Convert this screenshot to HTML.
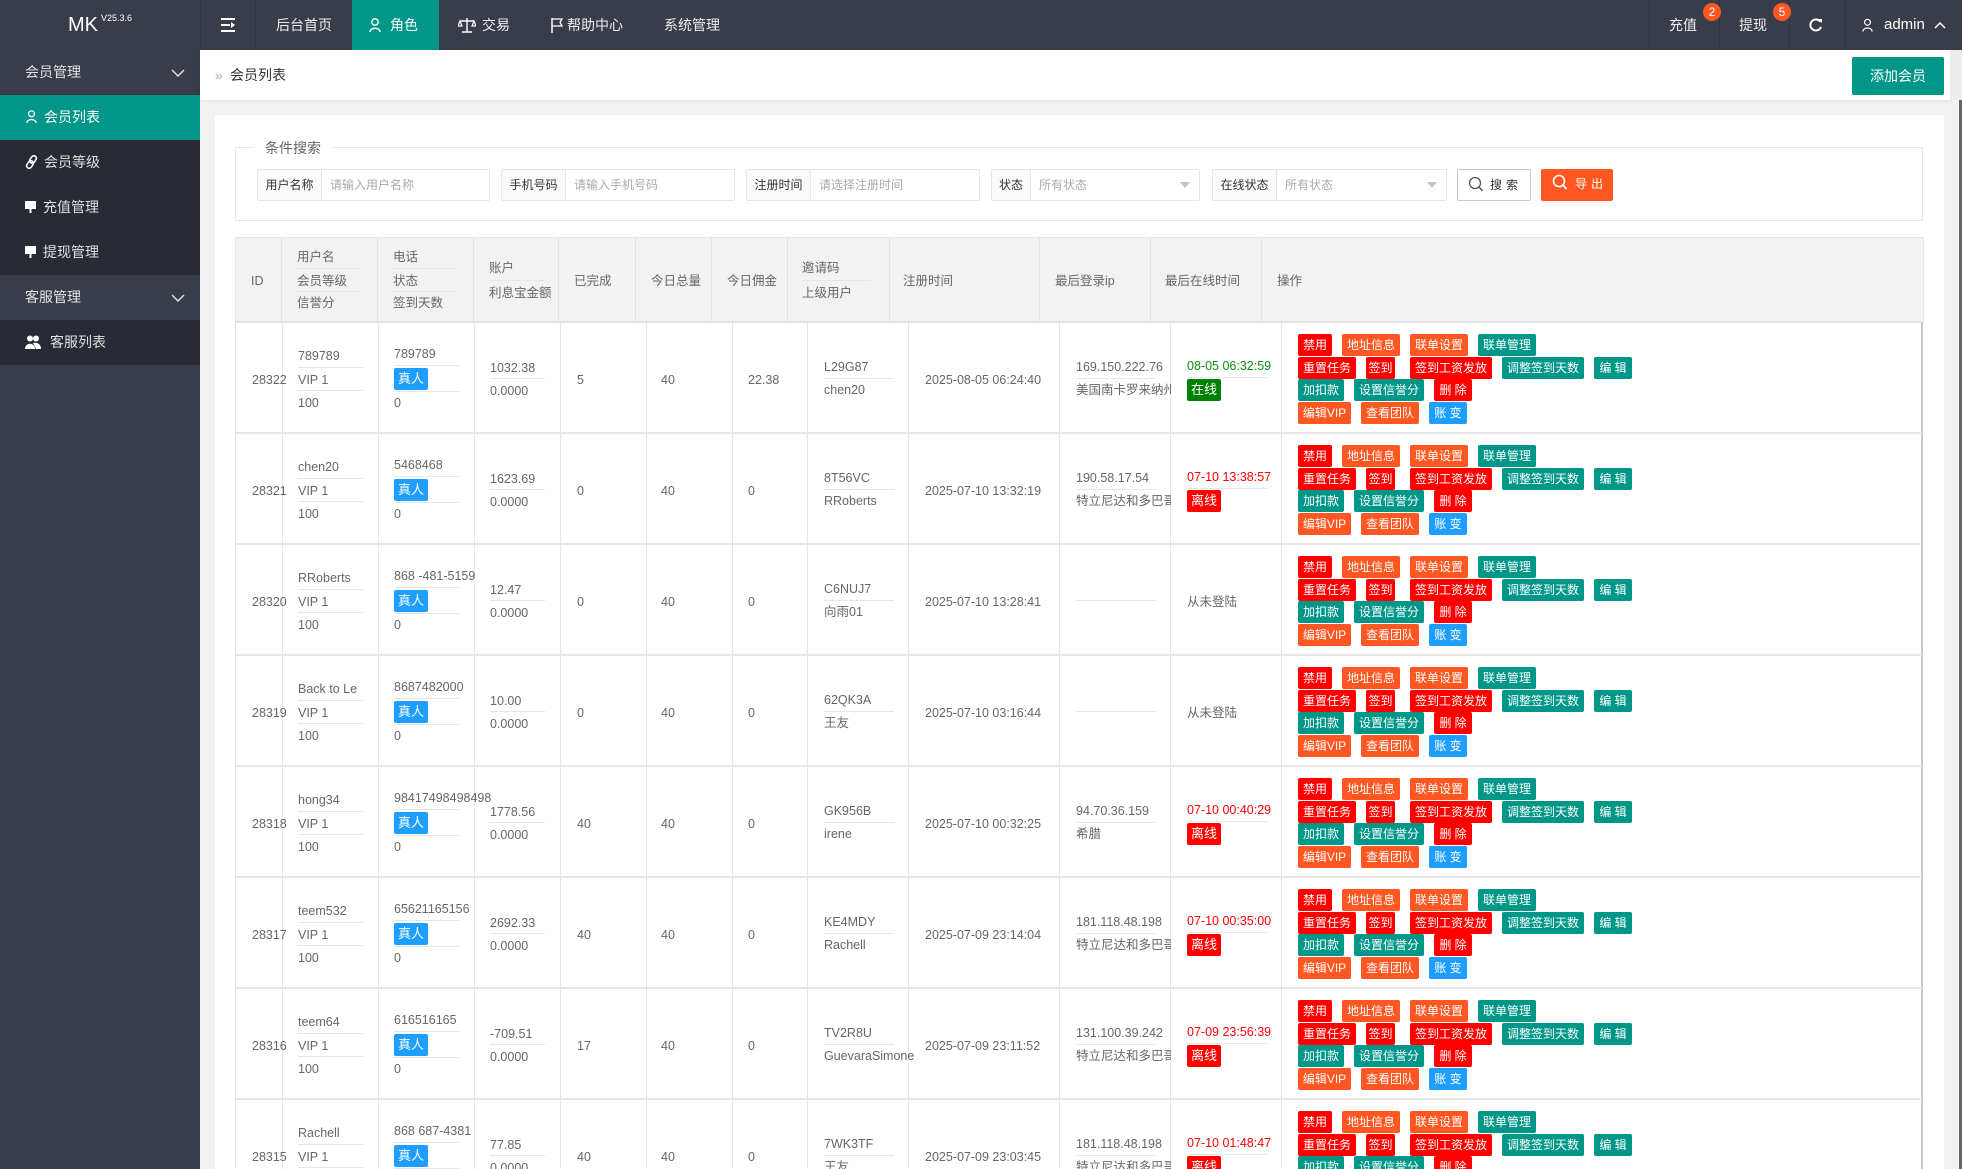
<!DOCTYPE html>
<html><head><meta charset="utf-8"><style>
*{box-sizing:border-box;margin:0;padding:0}
body{width:1962px;height:1169px;overflow:hidden;position:relative;background:#f2f2f2;font-family:"Liberation Sans","Noto Sans CJK SC",sans-serif;color:#666}
.a{position:absolute}
.top{left:0;top:0;width:1962px;height:50px;background:#393D49}
.nt{position:absolute;top:0;line-height:50px;height:50px;font-size:14px;color:#eee;white-space:nowrap}
.sep{position:absolute;top:0;width:1px;height:50px;background:#30333c}
.side{left:0;top:50px;width:200px;height:1119px;background:#393D49}
.si{position:absolute;left:0;width:200px;height:45px;line-height:45px;font-size:14px;color:rgba(255,255,255,.85);white-space:nowrap}
.dk{background:#282B33}
.s{position:absolute;line-height:20px;height:20px;white-space:nowrap;color:#666;font-size:12.5px}
.d{position:absolute;height:1px;background:#e6e6e6;display:block}
.r{position:absolute;left:0;width:1686px;height:111px;border-bottom:2px solid #e6e6e6}
.bd{position:absolute;width:34px;height:22px;line-height:22px;text-align:center;color:#fff;font-size:13px;border-radius:2px}
.b{position:absolute;height:22px;line-height:22px;color:#fff;font-size:12px;text-align:center;border-radius:2px;white-space:nowrap}
.R{background:#ff0000}.O{background:#FF5722}.G{background:#009688}.B{background:#1E9FFF}
.vl{position:absolute;top:0;width:1px;height:100%;background:#e6e6e6}
.lab{position:absolute;top:169px;height:32px;line-height:30px;background:#fafafa;border:1px solid #e6e6e6;font-size:12px;color:#333;text-align:center;border-radius:2px 0 0 2px}
.inp{position:absolute;top:169px;height:32px;line-height:30px;background:#fff;border:1px solid #e6e6e6;border-left:none;font-size:12px;color:#aaa;padding-left:8px;border-radius:0 2px 2px 0}
.tri{position:absolute;top:12px;width:0;height:0;border-left:5px solid transparent;border-right:5px solid transparent;border-top:6px solid #c2c2c2}
/* row positions */
.id{left:16px;top:47px}
.u1{left:62px;top:23px}.u2{left:62px;top:47px}.u3{left:62px;top:70px}
.ud1{left:62px;top:44px;width:65px}.ud2{left:62px;top:67px;width:65px}
.p1{left:158px;top:21px}.pd1{left:158px;top:42px;width:65px}.pb{left:158px;top:45px}.pd2{left:158px;top:68px;width:65px}.p3{left:158px;top:70px}
.a1{left:254px;top:35px}.ad{left:254px;top:55px;width:55px}.a2{left:254px;top:58px}
.dn{left:341px;top:47px}.tt{left:425px;top:47px}.cm{left:512px;top:47px}
.i1{left:588px;top:34px}.idv{left:588px;top:55px;width:70px}.i2{left:588px;top:57px}
.rg{left:689px;top:47px}
.ip1{left:840px;top:34px}.ipd{left:840px;top:55px;width:80px}.ip2{left:840px;top:57px;width:95px;overflow:hidden}
.o1{left:951px;top:33px}.od{left:951px;top:54px;width:80px}.ob{left:951px;top:56px}.on{left:951px;top:47px}
.ops{position:absolute;left:1046px;top:0;width:640px;height:109px}
.gr{color:#0a8f0a}.rd{color:#ff0000}
</style></head><body>

<!-- top bar -->
<div class="a top"></div>
<div class="a" style="left:68px;top:0;line-height:50px;font-size:20px;color:#fff">MK</div>
<div class="a" style="left:101px;top:12px;font-size:9px;color:#fff;line-height:12px">V25.3.6</div>
<div class="sep" style="left:200px"></div>
<div class="sep" style="left:255px"></div>
<svg class="a" style="left:221px;top:18px" width="15" height="14" viewBox="0 0 15 14"><rect x="0" y="0" width="14" height="2" fill="#fff"/><rect x="0" y="6" width="9" height="2" fill="#fff"/><rect x="0" y="12" width="14" height="2" fill="#fff"/><path d="M10 4 L14 7 L10 10 Z" fill="#fff"/></svg>
<div class="nt" style="left:276px">后台首页</div>
<div class="a" style="left:352px;top:0;width:87px;height:50px;background:#009688"></div>
<svg class="a" style="left:369px;top:18px" width="12" height="15" viewBox="0 0 12 15"><circle cx="6" cy="4" r="3.2" fill="none" stroke="#fff" stroke-width="1.4"/><path d="M1 14 C1 9 11 9 11 14" fill="none" stroke="#fff" stroke-width="1.4"/></svg>
<div class="nt" style="left:390px;color:#fff">角色</div>
<svg class="a" style="left:458px;top:17px" width="18" height="16" viewBox="0 0 18 16"><path d="M9 1 V15 M4 15 H14 M2 4 H16" stroke="#fff" stroke-width="1.4" fill="none"/><path d="M2 4 L0 9 H4 Z M16 4 L14 9 H18 Z" fill="none" stroke="#fff" stroke-width="1.2"/></svg>
<div class="nt" style="left:482px">交易</div>
<svg class="a" style="left:551px;top:18px" width="13" height="15" viewBox="0 0 13 15"><path d="M1 0 V15" stroke="#fff" stroke-width="1.5"/><path d="M1 1 H11 L9 4.5 L11 8 H1" fill="none" stroke="#fff" stroke-width="1.3"/></svg>
<div class="nt" style="left:567px">帮助中心</div>
<div class="nt" style="left:664px">系统管理</div>
<div class="sep" style="left:1649px"></div>
<div class="sep" style="left:1719px"></div>
<div class="sep" style="left:1789px"></div>
<div class="sep" style="left:1845px"></div>
<div class="nt" style="left:1669px">充值</div>
<div class="a" style="left:1703px;top:3px;width:18px;height:18px;border-radius:9px;background:#FF5722;color:#fff;font-size:12px;line-height:18px;text-align:center">2</div>
<div class="nt" style="left:1739px">提现</div>
<div class="a" style="left:1773px;top:3px;width:18px;height:18px;border-radius:9px;background:#FF5722;color:#fff;font-size:12px;line-height:18px;text-align:center">5</div>
<svg class="a" style="left:1809px;top:18px" width="14" height="14" viewBox="0 0 14 14"><path d="M11.5 4 A5.5 5.5 0 1 0 12 9" fill="none" stroke="#fff" stroke-width="2"/><path d="M9 1 L13 1 L13 5 Z" fill="#fff"/></svg>
<svg class="a" style="left:1862px;top:18px" width="11" height="15" viewBox="0 0 12 15"><circle cx="6" cy="4" r="3.2" fill="none" stroke="#fff" stroke-width="1.3"/><path d="M1 14 C1 9 11 9 11 14" fill="none" stroke="#fff" stroke-width="1.3"/></svg>
<div class="nt" style="left:1884px;font-size:15px;color:#fff">admin</div>
<svg class="a" style="left:1934px;top:21px" width="12" height="8" viewBox="0 0 12 8"><path d="M1 7 L6 2 L11 7" fill="none" stroke="#fff" stroke-width="1.5"/></svg>

<!-- sidebar -->
<div class="a side"></div>
<div class="si" style="top:50px;padding-left:25px">会员管理</div>
<svg class="a" style="left:171px;top:69px" width="14" height="8" viewBox="0 0 14 8"><path d="M1 1 L7 7 L13 1" fill="none" stroke="#ddd" stroke-width="1.5"/></svg>
<div class="si" style="top:95px;background:#009688;color:#fff;padding-left:44px">会员列表</div>
<svg class="a" style="left:26px;top:110px" width="11" height="14" viewBox="0 0 12 15"><circle cx="6" cy="4" r="3.2" fill="none" stroke="#fff" stroke-width="1.4"/><path d="M1 14 C1 9 11 9 11 14" fill="none" stroke="#fff" stroke-width="1.4"/></svg>
<div class="si dk" style="top:140px;padding-left:44px">会员等级</div>
<svg class="a" style="left:25px;top:155px" width="13" height="14" viewBox="0 0 13 14"><rect x="5.5" y="0.5" width="5" height="8" rx="2.5" transform="rotate(35 8 4.5)" fill="none" stroke="#fff" stroke-width="1.6"/><rect x="2.5" y="5.5" width="5" height="8" rx="2.5" transform="rotate(35 5 9.5)" fill="none" stroke="#fff" stroke-width="1.6"/></svg>
<div class="si dk" style="top:185px;padding-left:43px">充值管理</div>
<svg class="a" style="left:25px;top:201px" width="11" height="12" viewBox="0 0 11 12"><rect x="0" y="0" width="11" height="8" fill="#fff"/><rect x="4.5" y="8" width="2" height="4" fill="#fff"/></svg>
<div class="si dk" style="top:230px;padding-left:43px">提现管理</div>
<svg class="a" style="left:25px;top:246px" width="11" height="12" viewBox="0 0 11 12"><rect x="0" y="0" width="11" height="8" fill="#fff"/><rect x="4.5" y="8" width="2" height="4" fill="#fff"/></svg>
<div class="si" style="top:275px;padding-left:25px">客服管理</div>
<svg class="a" style="left:171px;top:294px" width="14" height="8" viewBox="0 0 14 8"><path d="M1 1 L7 7 L13 1" fill="none" stroke="#ddd" stroke-width="1.5"/></svg>
<div class="si dk" style="top:320px;padding-left:50px">客服列表</div>
<svg class="a" style="left:25px;top:335px" width="16" height="14" viewBox="0 0 16 14"><circle cx="5" cy="3.5" r="3" fill="#fff"/><path d="M0 14 C0 7 10 7 10 14 Z" fill="#fff"/><circle cx="11" cy="3.5" r="3" fill="#fff"/><path d="M8 8 C12 7 16 9 16 14 H11 Z" fill="#fff"/></svg>

<!-- breadcrumb -->
<div class="a" style="left:200px;top:50px;width:1750px;height:50px;background:#fff;box-shadow:0 1px 3px rgba(0,0,0,.08)"></div>
<div class="a" style="left:1950px;top:50px;width:12px;height:50px;background:#ececec"></div>
<div class="a" style="left:1959px;top:100px;width:3px;height:1069px;background:#666"></div>
<div class="a" style="left:215px;top:64px;line-height:22px;font-size:14px;color:#aaa">»</div>
<div class="a" style="left:230px;top:64px;line-height:22px;font-size:14px;color:#333">会员列表</div>
<div class="a" style="left:1852px;top:57px;width:92px;height:38px;line-height:38px;background:#009688;color:#fff;font-size:14px;text-align:center;border-radius:2px">添加会员</div>

<!-- card -->
<div class="a" style="left:215px;top:115px;width:1729px;height:1054px;background:#fff"></div>
<div class="a" style="left:235px;top:147px;width:1688px;height:74px;border:1px solid #e6e6e6"></div>
<div class="a" style="left:255px;top:138px;padding:0 10px;background:#fff;line-height:20px;font-size:14px;color:#666">条件搜索</div>

<div class="lab" style="left:257px;width:65px">用户名称</div><div class="inp" style="left:322px;width:168px">请输入用户名称</div>
<div class="lab" style="left:501px;width:65px">手机号码</div><div class="inp" style="left:566px;width:169px">请输入手机号码</div>
<div class="lab" style="left:746px;width:65px">注册时间</div><div class="inp" style="left:811px;width:169px">请选择注册时间</div>
<div class="lab" style="left:991px;width:40px">状态</div><div class="inp" style="left:1031px;width:169px">所有状态<i class="tri" style="left:149px"></i></div>
<div class="lab" style="left:1212px;width:65px">在线状态</div><div class="inp" style="left:1277px;width:170px">所有状态<i class="tri" style="left:150px"></i></div>
<div class="a" style="left:1457px;top:169px;width:74px;height:32px;border:1px solid #c9c9c9;background:#fff;border-radius:2px"></div>
<svg class="a" style="left:1468px;top:176px" width="16" height="17" viewBox="0 0 16 17"><circle cx="7" cy="7" r="5.5" fill="none" stroke="#555" stroke-width="1.3"/><path d="M11 11 L14.5 15" stroke="#555" stroke-width="1.5"/></svg>
<div class="a" style="left:1490px;top:169px;line-height:32px;font-size:12px;color:#333;letter-spacing:4px">搜索</div>
<div class="a" style="left:1541px;top:169px;width:72px;height:32px;background:#FF5722;border-radius:2px"></div>
<svg class="a" style="left:1552px;top:174px" width="16" height="17" viewBox="0 0 16 17"><circle cx="7" cy="7" r="5.5" fill="none" stroke="#fff" stroke-width="1.6"/><path d="M11 11 L14.5 15" stroke="#fff" stroke-width="1.8"/></svg>
<div class="a" style="left:1575px;top:168px;line-height:32px;font-size:12px;color:#fff;letter-spacing:4px">导出</div>

<!-- table header -->
<div class="a" style="left:235px;top:237px;width:1689px;height:86px;background:#f2f2f2;border:1px solid #e6e6e6;border-bottom:2px solid #e2e2e2">
<i class="vl" style="left:45px;background:#e2e2e2"></i><i class="vl" style="left:141px;background:#e2e2e2"></i><i class="vl" style="left:237px;background:#e2e2e2"></i><i class="vl" style="left:322px;background:#e2e2e2"></i><i class="vl" style="left:399px;background:#e2e2e2"></i><i class="vl" style="left:475px;background:#e2e2e2"></i><i class="vl" style="left:551px;background:#e2e2e2"></i><i class="vl" style="left:653px;background:#e2e2e2"></i><i class="vl" style="left:803px;background:#e2e2e2"></i><i class="vl" style="left:914px;background:#e2e2e2"></i><i class="vl" style="left:1025px;background:#e2e2e2"></i>
<span class="s" style="left:15px;top:33px">ID</span>
<span class="s" style="left:61px;top:9px">用户名</span><i class="d" style="left:61px;top:30px;width:63px"></i><span class="s" style="left:61px;top:33px">会员等级</span><i class="d" style="left:61px;top:53px;width:63px"></i><span class="s" style="left:61px;top:55px">信誉分</span>
<span class="s" style="left:157px;top:9px">电话</span><i class="d" style="left:157px;top:30px;width:63px"></i><span class="s" style="left:157px;top:33px">状态</span><i class="d" style="left:157px;top:53px;width:63px"></i><span class="s" style="left:157px;top:55px">签到天数</span>
<span class="s" style="left:253px;top:20px">账户</span><i class="d" style="left:253px;top:42px;width:55px"></i><span class="s" style="left:253px;top:45px">利息宝金额</span>
<span class="s" style="left:338px;top:33px">已完成</span>
<span class="s" style="left:415px;top:33px">今日总量</span>
<span class="s" style="left:491px;top:33px">今日佣金</span>
<span class="s" style="left:566px;top:20px">邀请码</span><i class="d" style="left:566px;top:42px;width:69px"></i><span class="s" style="left:566px;top:45px">上级用户</span>
<span class="s" style="left:667px;top:33px">注册时间</span>
<span class="s" style="left:819px;top:33px">最后登录ip</span>
<span class="s" style="left:929px;top:33px">最后在线时间</span>
<span class="s" style="left:1041px;top:33px">操作</span>
</div>

<!-- table body -->
<div class="a" style="left:235px;top:323px;width:1688px;height:846px;overflow:hidden;border-left:1px solid #e6e6e6">
<i class="vl" style="left:46px"></i><i class="vl" style="left:142px"></i><i class="vl" style="left:238px"></i><i class="vl" style="left:324px"></i><i class="vl" style="left:410px"></i><i class="vl" style="left:496px"></i><i class="vl" style="left:571px"></i><i class="vl" style="left:672px"></i><i class="vl" style="left:823px"></i><i class="vl" style="left:934px"></i><i class="vl" style="left:1045px"></i>
<i class="vl" style="left:1685px;width:2px;background:#c8c8c8"></i>

<div class="r" style="top:0">
<span class="s id">28322</span>
<span class="s u1">789789</span><i class="d ud1"></i><span class="s u2">VIP 1</span><i class="d ud2"></i><span class="s u3">100</span>
<span class="s p1">789789</span><i class="d pd1"></i><span class="bd B pb">真人</span><i class="d pd2"></i><span class="s p3">0</span>
<span class="s a1">1032.38</span><i class="d ad"></i><span class="s a2">0.0000</span>
<span class="s dn">5</span><span class="s tt">40</span><span class="s cm">22.38</span>
<span class="s i1">L29G87</span><i class="d idv"></i><span class="s i2">chen20</span>
<span class="s rg">2025-08-05 06:24:40</span>
<span class="s ip1">169.150.222.76</span><i class="d ipd"></i><span class="s ip2">美国南卡罗来纳州</span>
<span class="s o1 gr">08-05 06:32:59</span><i class="d od"></i><span class="bd ob" style="background:#008000">在线</span>
<div class="ops"><span class="b R" style="left:16px;top:11px;width:34px">禁用</span><span class="b O" style="left:60px;top:11px;width:58px">地址信息</span><span class="b O" style="left:128px;top:11px;width:58px">联单设置</span><span class="b G" style="left:196px;top:11px;width:58px">联单管理</span><span class="b R" style="left:16px;top:34px;width:58px">重置任务</span><span class="b R" style="left:84px;top:34px;width:29px">签到</span><span class="b R" style="left:128px;top:34px;width:82px">签到工资发放</span><span class="b G" style="left:220px;top:34px;width:82px">调整签到天数</span><span class="b G" style="left:312px;top:34px;width:38px">编 辑</span><span class="b G" style="left:16px;top:56px;width:46px">加扣款</span><span class="b G" style="left:72px;top:56px;width:70px">设置信誉分</span><span class="b R" style="left:152px;top:56px;width:38px">删 除</span><span class="b O" style="left:16px;top:79px;width:53px">编辑VIP</span><span class="b O" style="left:79px;top:79px;width:58px">查看团队</span><span class="b B" style="left:147px;top:79px;width:38px">账 变</span></div>
</div>

<div class="r" style="top:111px">
<span class="s id">28321</span>
<span class="s u1">chen20</span><i class="d ud1"></i><span class="s u2">VIP 1</span><i class="d ud2"></i><span class="s u3">100</span>
<span class="s p1">5468468</span><i class="d pd1"></i><span class="bd B pb">真人</span><i class="d pd2"></i><span class="s p3">0</span>
<span class="s a1">1623.69</span><i class="d ad"></i><span class="s a2">0.0000</span>
<span class="s dn">0</span><span class="s tt">40</span><span class="s cm">0</span>
<span class="s i1">8T56VC</span><i class="d idv"></i><span class="s i2">RRoberts</span>
<span class="s rg">2025-07-10 13:32:19</span>
<span class="s ip1">190.58.17.54</span><i class="d ipd"></i><span class="s ip2">特立尼达和多巴哥</span>
<span class="s o1 rd">07-10 13:38:57</span><i class="d od"></i><span class="bd ob R">离线</span>
<div class="ops"><span class="b R" style="left:16px;top:11px;width:34px">禁用</span><span class="b O" style="left:60px;top:11px;width:58px">地址信息</span><span class="b O" style="left:128px;top:11px;width:58px">联单设置</span><span class="b G" style="left:196px;top:11px;width:58px">联单管理</span><span class="b R" style="left:16px;top:34px;width:58px">重置任务</span><span class="b R" style="left:84px;top:34px;width:29px">签到</span><span class="b R" style="left:128px;top:34px;width:82px">签到工资发放</span><span class="b G" style="left:220px;top:34px;width:82px">调整签到天数</span><span class="b G" style="left:312px;top:34px;width:38px">编 辑</span><span class="b G" style="left:16px;top:56px;width:46px">加扣款</span><span class="b G" style="left:72px;top:56px;width:70px">设置信誉分</span><span class="b R" style="left:152px;top:56px;width:38px">删 除</span><span class="b O" style="left:16px;top:79px;width:53px">编辑VIP</span><span class="b O" style="left:79px;top:79px;width:58px">查看团队</span><span class="b B" style="left:147px;top:79px;width:38px">账 变</span></div>
</div>

<div class="r" style="top:222px">
<span class="s id">28320</span>
<span class="s u1">RRoberts</span><i class="d ud1"></i><span class="s u2">VIP 1</span><i class="d ud2"></i><span class="s u3">100</span>
<span class="s p1">868 -481-5159</span><i class="d pd1"></i><span class="bd B pb">真人</span><i class="d pd2"></i><span class="s p3">0</span>
<span class="s a1">12.47</span><i class="d ad"></i><span class="s a2">0.0000</span>
<span class="s dn">0</span><span class="s tt">40</span><span class="s cm">0</span>
<span class="s i1">C6NUJ7</span><i class="d idv"></i><span class="s i2">向雨01</span>
<span class="s rg">2025-07-10 13:28:41</span>
<i class="d ipd"></i>
<span class="s on">从未登陆</span>
<div class="ops"><span class="b R" style="left:16px;top:11px;width:34px">禁用</span><span class="b O" style="left:60px;top:11px;width:58px">地址信息</span><span class="b O" style="left:128px;top:11px;width:58px">联单设置</span><span class="b G" style="left:196px;top:11px;width:58px">联单管理</span><span class="b R" style="left:16px;top:34px;width:58px">重置任务</span><span class="b R" style="left:84px;top:34px;width:29px">签到</span><span class="b R" style="left:128px;top:34px;width:82px">签到工资发放</span><span class="b G" style="left:220px;top:34px;width:82px">调整签到天数</span><span class="b G" style="left:312px;top:34px;width:38px">编 辑</span><span class="b G" style="left:16px;top:56px;width:46px">加扣款</span><span class="b G" style="left:72px;top:56px;width:70px">设置信誉分</span><span class="b R" style="left:152px;top:56px;width:38px">删 除</span><span class="b O" style="left:16px;top:79px;width:53px">编辑VIP</span><span class="b O" style="left:79px;top:79px;width:58px">查看团队</span><span class="b B" style="left:147px;top:79px;width:38px">账 变</span></div>
</div>

<div class="r" style="top:333px">
<span class="s id">28319</span>
<span class="s u1">Back to Le</span><i class="d ud1"></i><span class="s u2">VIP 1</span><i class="d ud2"></i><span class="s u3">100</span>
<span class="s p1">8687482000</span><i class="d pd1"></i><span class="bd B pb">真人</span><i class="d pd2"></i><span class="s p3">0</span>
<span class="s a1">10.00</span><i class="d ad"></i><span class="s a2">0.0000</span>
<span class="s dn">0</span><span class="s tt">40</span><span class="s cm">0</span>
<span class="s i1">62QK3A</span><i class="d idv"></i><span class="s i2">王友</span>
<span class="s rg">2025-07-10 03:16:44</span>
<i class="d ipd"></i>
<span class="s on">从未登陆</span>
<div class="ops"><span class="b R" style="left:16px;top:11px;width:34px">禁用</span><span class="b O" style="left:60px;top:11px;width:58px">地址信息</span><span class="b O" style="left:128px;top:11px;width:58px">联单设置</span><span class="b G" style="left:196px;top:11px;width:58px">联单管理</span><span class="b R" style="left:16px;top:34px;width:58px">重置任务</span><span class="b R" style="left:84px;top:34px;width:29px">签到</span><span class="b R" style="left:128px;top:34px;width:82px">签到工资发放</span><span class="b G" style="left:220px;top:34px;width:82px">调整签到天数</span><span class="b G" style="left:312px;top:34px;width:38px">编 辑</span><span class="b G" style="left:16px;top:56px;width:46px">加扣款</span><span class="b G" style="left:72px;top:56px;width:70px">设置信誉分</span><span class="b R" style="left:152px;top:56px;width:38px">删 除</span><span class="b O" style="left:16px;top:79px;width:53px">编辑VIP</span><span class="b O" style="left:79px;top:79px;width:58px">查看团队</span><span class="b B" style="left:147px;top:79px;width:38px">账 变</span></div>
</div>

<div class="r" style="top:444px">
<span class="s id">28318</span>
<span class="s u1">hong34</span><i class="d ud1"></i><span class="s u2">VIP 1</span><i class="d ud2"></i><span class="s u3">100</span>
<span class="s p1">98417498498498</span><i class="d pd1"></i><span class="bd B pb">真人</span><i class="d pd2"></i><span class="s p3">0</span>
<span class="s a1">1778.56</span><i class="d ad"></i><span class="s a2">0.0000</span>
<span class="s dn">40</span><span class="s tt">40</span><span class="s cm">0</span>
<span class="s i1">GK956B</span><i class="d idv"></i><span class="s i2">irene</span>
<span class="s rg">2025-07-10 00:32:25</span>
<span class="s ip1">94.70.36.159</span><i class="d ipd"></i><span class="s ip2">希腊</span>
<span class="s o1 rd">07-10 00:40:29</span><i class="d od"></i><span class="bd ob R">离线</span>
<div class="ops"><span class="b R" style="left:16px;top:11px;width:34px">禁用</span><span class="b O" style="left:60px;top:11px;width:58px">地址信息</span><span class="b O" style="left:128px;top:11px;width:58px">联单设置</span><span class="b G" style="left:196px;top:11px;width:58px">联单管理</span><span class="b R" style="left:16px;top:34px;width:58px">重置任务</span><span class="b R" style="left:84px;top:34px;width:29px">签到</span><span class="b R" style="left:128px;top:34px;width:82px">签到工资发放</span><span class="b G" style="left:220px;top:34px;width:82px">调整签到天数</span><span class="b G" style="left:312px;top:34px;width:38px">编 辑</span><span class="b G" style="left:16px;top:56px;width:46px">加扣款</span><span class="b G" style="left:72px;top:56px;width:70px">设置信誉分</span><span class="b R" style="left:152px;top:56px;width:38px">删 除</span><span class="b O" style="left:16px;top:79px;width:53px">编辑VIP</span><span class="b O" style="left:79px;top:79px;width:58px">查看团队</span><span class="b B" style="left:147px;top:79px;width:38px">账 变</span></div>
</div>

<div class="r" style="top:555px">
<span class="s id">28317</span>
<span class="s u1">teem532</span><i class="d ud1"></i><span class="s u2">VIP 1</span><i class="d ud2"></i><span class="s u3">100</span>
<span class="s p1">65621165156</span><i class="d pd1"></i><span class="bd B pb">真人</span><i class="d pd2"></i><span class="s p3">0</span>
<span class="s a1">2692.33</span><i class="d ad"></i><span class="s a2">0.0000</span>
<span class="s dn">40</span><span class="s tt">40</span><span class="s cm">0</span>
<span class="s i1">KE4MDY</span><i class="d idv"></i><span class="s i2">Rachell</span>
<span class="s rg">2025-07-09 23:14:04</span>
<span class="s ip1">181.118.48.198</span><i class="d ipd"></i><span class="s ip2">特立尼达和多巴哥</span>
<span class="s o1 rd">07-10 00:35:00</span><i class="d od"></i><span class="bd ob R">离线</span>
<div class="ops"><span class="b R" style="left:16px;top:11px;width:34px">禁用</span><span class="b O" style="left:60px;top:11px;width:58px">地址信息</span><span class="b O" style="left:128px;top:11px;width:58px">联单设置</span><span class="b G" style="left:196px;top:11px;width:58px">联单管理</span><span class="b R" style="left:16px;top:34px;width:58px">重置任务</span><span class="b R" style="left:84px;top:34px;width:29px">签到</span><span class="b R" style="left:128px;top:34px;width:82px">签到工资发放</span><span class="b G" style="left:220px;top:34px;width:82px">调整签到天数</span><span class="b G" style="left:312px;top:34px;width:38px">编 辑</span><span class="b G" style="left:16px;top:56px;width:46px">加扣款</span><span class="b G" style="left:72px;top:56px;width:70px">设置信誉分</span><span class="b R" style="left:152px;top:56px;width:38px">删 除</span><span class="b O" style="left:16px;top:79px;width:53px">编辑VIP</span><span class="b O" style="left:79px;top:79px;width:58px">查看团队</span><span class="b B" style="left:147px;top:79px;width:38px">账 变</span></div>
</div>

<div class="r" style="top:666px">
<span class="s id">28316</span>
<span class="s u1">teem64</span><i class="d ud1"></i><span class="s u2">VIP 1</span><i class="d ud2"></i><span class="s u3">100</span>
<span class="s p1">616516165</span><i class="d pd1"></i><span class="bd B pb">真人</span><i class="d pd2"></i><span class="s p3">0</span>
<span class="s a1">-709.51</span><i class="d ad"></i><span class="s a2">0.0000</span>
<span class="s dn">17</span><span class="s tt">40</span><span class="s cm">0</span>
<span class="s i1">TV2R8U</span><i class="d idv"></i><span class="s i2">GuevaraSimone</span>
<span class="s rg">2025-07-09 23:11:52</span>
<span class="s ip1">131.100.39.242</span><i class="d ipd"></i><span class="s ip2">特立尼达和多巴哥</span>
<span class="s o1 rd">07-09 23:56:39</span><i class="d od"></i><span class="bd ob R">离线</span>
<div class="ops"><span class="b R" style="left:16px;top:11px;width:34px">禁用</span><span class="b O" style="left:60px;top:11px;width:58px">地址信息</span><span class="b O" style="left:128px;top:11px;width:58px">联单设置</span><span class="b G" style="left:196px;top:11px;width:58px">联单管理</span><span class="b R" style="left:16px;top:34px;width:58px">重置任务</span><span class="b R" style="left:84px;top:34px;width:29px">签到</span><span class="b R" style="left:128px;top:34px;width:82px">签到工资发放</span><span class="b G" style="left:220px;top:34px;width:82px">调整签到天数</span><span class="b G" style="left:312px;top:34px;width:38px">编 辑</span><span class="b G" style="left:16px;top:56px;width:46px">加扣款</span><span class="b G" style="left:72px;top:56px;width:70px">设置信誉分</span><span class="b R" style="left:152px;top:56px;width:38px">删 除</span><span class="b O" style="left:16px;top:79px;width:53px">编辑VIP</span><span class="b O" style="left:79px;top:79px;width:58px">查看团队</span><span class="b B" style="left:147px;top:79px;width:38px">账 变</span></div>
</div>

<div class="r" style="top:777px">
<span class="s id">28315</span>
<span class="s u1">Rachell</span><i class="d ud1"></i><span class="s u2">VIP 1</span><i class="d ud2"></i><span class="s u3">100</span>
<span class="s p1">868 687-4381</span><i class="d pd1"></i><span class="bd B pb">真人</span><i class="d pd2"></i><span class="s p3">0</span>
<span class="s a1">77.85</span><i class="d ad"></i><span class="s a2">0.0000</span>
<span class="s dn">40</span><span class="s tt">40</span><span class="s cm">0</span>
<span class="s i1">7WK3TF</span><i class="d idv"></i><span class="s i2">王友</span>
<span class="s rg">2025-07-09 23:03:45</span>
<span class="s ip1">181.118.48.198</span><i class="d ipd"></i><span class="s ip2">特立尼达和多巴哥</span>
<span class="s o1 rd">07-10 01:48:47</span><i class="d od"></i><span class="bd ob R">离线</span>
<div class="ops"><span class="b R" style="left:16px;top:11px;width:34px">禁用</span><span class="b O" style="left:60px;top:11px;width:58px">地址信息</span><span class="b O" style="left:128px;top:11px;width:58px">联单设置</span><span class="b G" style="left:196px;top:11px;width:58px">联单管理</span><span class="b R" style="left:16px;top:34px;width:58px">重置任务</span><span class="b R" style="left:84px;top:34px;width:29px">签到</span><span class="b R" style="left:128px;top:34px;width:82px">签到工资发放</span><span class="b G" style="left:220px;top:34px;width:82px">调整签到天数</span><span class="b G" style="left:312px;top:34px;width:38px">编 辑</span><span class="b G" style="left:16px;top:56px;width:46px">加扣款</span><span class="b G" style="left:72px;top:56px;width:70px">设置信誉分</span><span class="b R" style="left:152px;top:56px;width:38px">删 除</span><span class="b O" style="left:16px;top:79px;width:53px">编辑VIP</span><span class="b O" style="left:79px;top:79px;width:58px">查看团队</span><span class="b B" style="left:147px;top:79px;width:38px">账 变</span></div>
</div>
</div>

</body></html>
